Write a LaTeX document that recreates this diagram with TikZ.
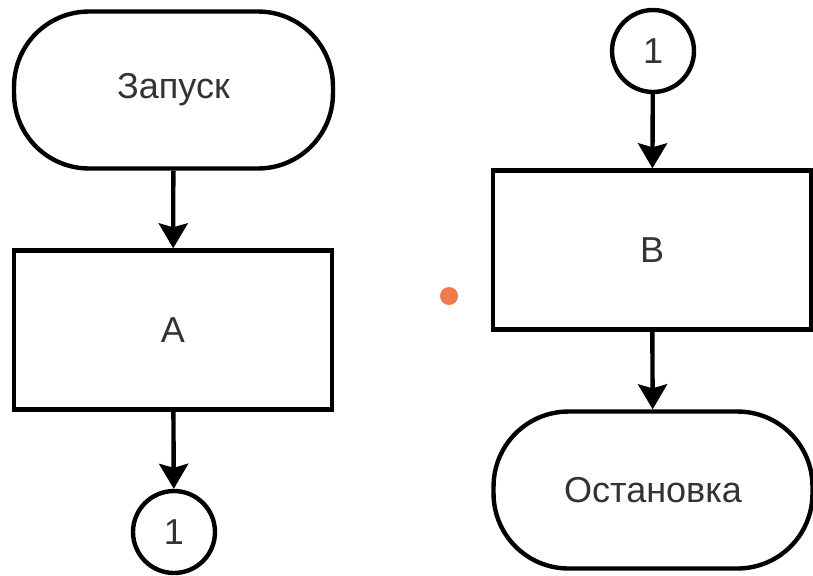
\documentclass[tikz,border=0pt]{standalone}
\usepackage{fontspec}
\setmainfont{Liberation Sans}
\usetikzlibrary{positioning}
\usetikzlibrary{arrows.meta}

\definecolor{textgrey}{HTML}{333333}
\definecolor{dotorange}{HTML}{F07A4C}

\tikzset{
	every node/.style={font=\fontsize{20.5}{24}\selectfont, text=textgrey},
	terminal/.style={draw, line width=2.5pt, rounded corners=1.5cm, minimum width=6.38cm, minimum height=3.14cm},
	process/.style={draw, line width=2.5pt, minimum width=6.36cm, minimum height=3.18cm},
	connector/.style={circle, draw, line width=2.5pt, minimum size=1.64cm, inner sep=0pt},
	flow/.style={line width=2.5pt, -{Stealth[length=0.5cm, width=0.58cm, inset=0.08cm]}}
}

\begin{document}
\begin{tikzpicture}[x=0.02cm, y=-0.02cm]
				
				\useasboundingbox (0,0) rectangle (813,575);
				
				\node[terminal] (T1) at (173.5,90) {Запуск};
				\node[process] (A) at (173,330) {A};
				\node[connector] (K1) at (174,532) {1};
				
				\draw[flow] (T1) -- (A);
				\draw[flow] (A) -- (K1);
				
				\node[connector] (K2) at (653,51) {1};
				\node[process] (B) at (652,250) {B};
				\node[terminal] (T2) at (653,490) {Остановка};
				
				\draw[flow] (K2) -- (B);
				\draw[flow] (B) -- (T2);
				
				\fill[dotorange] (449,296) circle (9);
				
			\end{tikzpicture}
\end{document}
